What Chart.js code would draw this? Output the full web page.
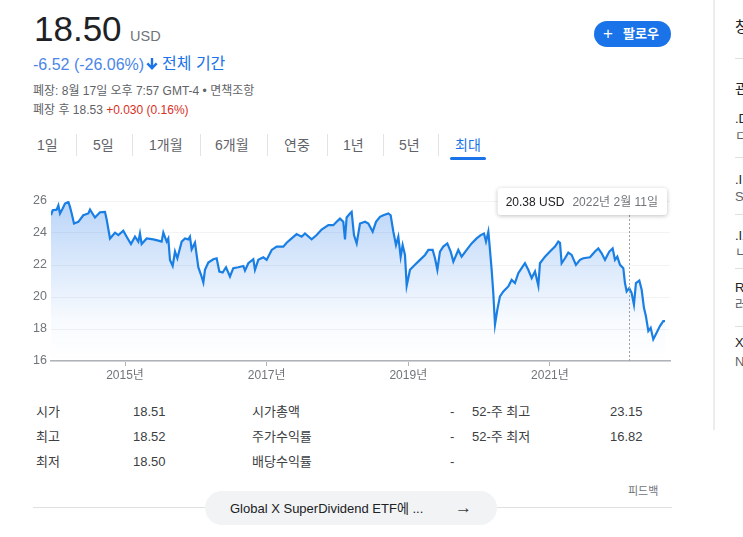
<!DOCTYPE html>
<html lang="ko">
<head>
<meta charset="utf-8">
<script src="https://cdn.jsdelivr.net/npm/chart.js@4.4.1/dist/chart.umd.min.js"></script>
<style>
  body { margin: 0; width: 743px; height: 537px; overflow: hidden; background: #fff;
         font-family: "Liberation Sans", Arial, "Noto Sans CJK KR", sans-serif; color: #202124; }
  .t { position: absolute; line-height: 1; white-space: nowrap; }
  .grey { color: #5f6368; }
  .tab { position: absolute; top: 138px; font-size: 14px; color: #5f6368; line-height: 1; }
  .sep { position: absolute; top: 134px; width: 1px; height: 22px; background: #e3e3e3; }
  .lbl { position: absolute; font-size: 13px; color: #3c4043; line-height: 1; }
  .side { position: absolute; left: 735px; width: 8px; overflow: hidden; white-space: nowrap; line-height: 1; font-size: 13px; }
  .sideSep { position: absolute; left: 735px; width: 8px; height: 1px; background: #e0e0e0; }
</style>
</head>
<body>
<div class="t" style="left:34px;top:11px;font-size:35px;">18.50</div>
<div class="t grey" style="left:130px;top:29px;font-size:14.5px;color:#70757a;">USD</div>
<div class="t" style="left:33px;top:57px;font-size:16px;color:#4a86e8;">-6.52 (-26.06%)</div>
<svg style="position:absolute;left:146px;top:57px;" width="12" height="14" viewBox="0 0 12 14">
  <path d="M6 13 L0.5 7.2 L2.2 5.6 L4.8 8.3 L4.8 1 L7.2 1 L7.2 8.3 L9.8 5.6 L11.5 7.2 Z" fill="#1a73e8"/>
</svg>
<div class="t" style="left:162px;top:56px;font-size:16px;color:#1a73e8;">전체 기간</div>
<div class="t grey" style="left:33px;top:85px;font-size:12px;">폐장: 8월 17일 오후 7:57 GMT-4 • 면책조항</div>
<div class="t grey" style="left:33px;top:104px;font-size:12px;">폐장 후 18.53 <span style="color:#d93025;">+0.030 (0.16%)</span></div>

<div style="position:absolute;left:594px;top:21px;width:77px;height:26px;border-radius:13px;background:#1a73e8;"></div>
<div class="t" style="left:603px;top:25px;font-size:17px;color:#fff;">+</div>
<div class="t" style="left:623px;top:27px;font-size:13px;color:#fff;font-weight:bold;">팔로우</div>

<div class="tab" style="left:37px;">1일</div>
<div class="sep" style="left:76px;"></div>
<div class="tab" style="left:93px;">5일</div>
<div class="sep" style="left:132px;"></div>
<div class="tab" style="left:149px;">1개월</div>
<div class="sep" style="left:200px;"></div>
<div class="tab" style="left:215px;">6개월</div>
<div class="sep" style="left:267px;"></div>
<div class="tab" style="left:284px;">연중</div>
<div class="sep" style="left:327px;"></div>
<div class="tab" style="left:343px;">1년</div>
<div class="sep" style="left:383px;"></div>
<div class="tab" style="left:399px;">5년</div>
<div class="sep" style="left:438px;"></div>
<div class="tab" style="left:455px;color:#1a73e8;">최대</div>
<div style="position:absolute;left:450px;top:157px;width:36px;height:3px;border-radius:2px;background:#1a73e8;"></div>

<canvas id="priceChart" style="position:absolute;left:0;top:180px;"></canvas>

<div class="lbl" style="left:36px;top:405px;">시가</div>
<div class="lbl" style="left:133px;top:405px;">18.51</div>
<div class="lbl" style="left:252px;top:405px;">시가총액</div>
<div class="lbl" style="left:450px;top:405px;">-</div>
<div class="lbl" style="left:472px;top:405px;">52-주 최고</div>
<div class="lbl" style="left:610px;top:405px;">23.15</div>
<div class="lbl" style="left:36px;top:430px;">최고</div>
<div class="lbl" style="left:133px;top:430px;">18.52</div>
<div class="lbl" style="left:252px;top:430px;">주가수익률</div>
<div class="lbl" style="left:450px;top:430px;">-</div>
<div class="lbl" style="left:472px;top:430px;">52-주 최저</div>
<div class="lbl" style="left:610px;top:430px;">16.82</div>
<div class="lbl" style="left:36px;top:455px;">최저</div>
<div class="lbl" style="left:133px;top:455px;">18.50</div>
<div class="lbl" style="left:252px;top:455px;">배당수익률</div>
<div class="lbl" style="left:450px;top:455px;">-</div>

<div class="t" style="left:628px;top:486px;font-size:11px;color:#70757a;">피드백</div>
<div style="position:absolute;left:33px;top:507px;width:639px;height:1px;background:#e0e0e0;"></div>
<div style="position:absolute;left:205px;top:491px;width:292px;height:34px;border-radius:17px;background:#f1f3f4;"></div>
<div class="t" style="left:230px;top:502px;font-size:13px;color:#202124;">Global X SuperDividend ETF에 ...</div>
<div class="t" style="left:455px;top:499px;font-size:17px;color:#3c4043;">&#8594;</div>

<div style="position:absolute;left:713px;top:0;width:2px;height:430px;background:#ececec;"></div>
<div class="side" style="top:19px;font-size:15px;">창 관심 종목</div>
<div class="sideSep" style="top:58px;"></div>
<div class="side" style="top:81px;font-size:15px;">관련 항목</div>
<div class="side" style="top:112px;">.DJI</div>
<div class="side" style="top:129px;color:#5f6368;">ㄷ</div>
<div class="sideSep" style="top:157px;"></div>
<div class="side" style="top:173px;">.INX</div>
<div class="side" style="top:190px;color:#5f6368;">S&amp;P 500</div>
<div class="sideSep" style="top:214px;"></div>
<div class="side" style="top:229px;">.IXIC</div>
<div class="side" style="top:245px;color:#5f6368;">ㄴ</div>
<div class="sideSep" style="top:268px;"></div>
<div class="side" style="top:281px;">RUT</div>
<div class="side" style="top:298px;color:#5f6368;">러셀 2000</div>
<div class="sideSep" style="top:326px;"></div>
<div class="side" style="top:336px;">XOM</div>
<div class="side" style="top:355px;color:#5f6368;">NYSE</div>

<script>
// decimal year of each sample
const years = [
  2013.955, 2013.979, 2014.035, 2014.059, 2014.082, 2014.12, 2014.153, 2014.2, 2014.223, 2014.247,
  2014.28, 2014.341, 2014.411, 2014.482, 2014.506, 2014.576, 2014.647, 2014.717, 2014.741, 2014.788,
  2014.859, 2014.906, 2014.976, 2015.023, 2015.084, 2015.141, 2015.188, 2015.211, 2015.235, 2015.306,
  2015.4, 2015.47, 2015.517, 2015.541, 2015.588, 2015.611, 2015.635, 2015.673, 2015.706, 2015.739,
  2015.8, 2015.847, 2015.894, 2015.917, 2015.941, 2015.988, 2016.035, 2016.073, 2016.106, 2016.129,
  2016.176, 2016.247, 2016.294, 2016.332, 2016.379, 2016.426, 2016.482, 2016.529, 2016.6, 2016.671,
  2016.694, 2016.741, 2016.812, 2016.835, 2016.882, 2016.953, 2017.0, 2017.071, 2017.141, 2017.235,
  2017.282, 2017.353, 2017.423, 2017.494, 2017.541, 2017.635, 2017.706, 2017.776, 2017.871, 2017.941,
  2017.988, 2018.035, 2018.082, 2018.106, 2018.129, 2018.176, 2018.2, 2018.233, 2018.271,
  2018.318, 2018.389, 2018.436, 2018.497, 2018.544, 2018.6, 2018.647, 2018.718, 2018.751, 2018.789,
  2018.826, 2018.859, 2018.892, 2018.92, 2018.953, 2018.977, 2019.024, 2019.094, 2019.165, 2019.236,
  2019.283, 2019.344, 2019.377, 2019.41, 2019.447, 2019.494, 2019.551, 2019.598, 2019.636, 2019.706,
  2019.753, 2019.824, 2019.894, 2019.965, 2020.022, 2020.069, 2020.097, 2020.13, 2020.153, 2020.177,
  2020.2, 2020.224, 2020.257, 2020.294, 2020.342, 2020.412, 2020.459, 2020.506, 2020.553, 2020.6,
  2020.647, 2020.694, 2020.742, 2020.789, 2020.836, 2020.859, 2020.93, 2021.0, 2021.071, 2021.118,
  2021.142, 2021.165, 2021.212, 2021.259, 2021.306, 2021.367, 2021.424, 2021.471, 2021.565, 2021.636,
  2021.683, 2021.73, 2021.777, 2021.838, 2021.885, 2021.918, 2021.951, 2021.989, 2022.036, 2022.059,
  2022.083, 2022.12, 2022.153, 2022.186, 2022.214, 2022.262, 2022.295, 2022.327, 2022.355, 2022.389,
  2022.422, 2022.459, 2022.506, 2022.553, 2022.6, 2022.624
];
// closing price (USD)
const prices = [
  25.11, 25.42, 25.46, 25.73, 25.22, 25.53, 25.84, 25.94, 25.63, 25.22,
  24.59, 24.70, 25.11, 25.22, 25.46, 24.97, 25.30, 25.32, 24.84, 23.66,
  24.02, 23.87, 24.14, 23.77, 23.31, 23.77, 23.46, 23.97, 23.31, 23.66,
  23.60, 23.52, 23.46, 24.02, 23.46, 23.66, 22.32, 21.94, 22.84, 22.42,
  23.46, 23.66, 23.60, 23.77, 22.98, 23.39, 21.86, 21.39, 20.91, 21.70,
  22.15, 22.36, 22.42, 21.59, 21.53, 21.86, 21.28, 21.80, 21.86, 21.94,
  21.65, 22.11, 22.36, 21.70, 22.32, 22.48, 22.32, 22.94, 23.15, 23.15,
  23.39, 23.66, 23.93, 23.77, 23.97, 23.60, 23.87, 24.22, 24.49, 24.49,
  24.70, 24.90, 24.70, 23.60, 24.97, 25.22, 25.32, 23.87, 23.35,
  24.59, 24.70, 24.59, 24.08, 24.70, 25.01, 25.11, 25.22, 25.11, 24.08,
  23.25, 23.77, 22.52, 23.25, 22.63, 20.70, 21.70, 22.01, 22.32, 22.63,
  22.94, 22.94, 22.42, 21.70, 22.84, 23.15, 23.35, 22.84, 22.21, 22.94,
  22.52, 22.94, 23.35, 23.66, 23.87, 23.97, 23.46, 24.08, 22.94, 21.70,
  20.25, 18.28, 19.21, 20.04, 20.35, 20.66, 21.07, 20.87, 21.49, 21.80,
  22.11, 21.70, 21.18, 21.59, 20.70, 22.11, 22.52, 22.84, 23.15, 23.46,
  23.39, 22.11, 22.42, 22.77, 22.63, 22.01, 22.32, 22.42, 22.48, 22.84,
  23.04, 22.73, 22.32, 22.84, 23.04, 22.32, 22.52, 22.01, 21.80, 20.87,
  20.35, 20.56, 20.25, 19.52, 20.87, 21.03, 20.45, 19.32, 18.80, 17.87,
  18.07, 17.35, 17.76, 18.18, 18.49, 18.49
];
const tickYears = [2015, 2017, 2019, 2021];
const yTicks = [16, 18, 20, 22, 24, 26];

// hovered point shown in the tooltip
const hoverYear = 2022.112;
const hoverPrice = '20.38 USD';
const hoverDate = '2022년 2월 11일';

const hoverMark = {
  id: 'hoverMark',
  afterDatasetsDraw(chart) {
    const { ctx, chartArea, scales } = chart;
    const x = Math.round(scales.x.getPixelForValue(hoverYear)) + 0.5;
    const boxTop = 8, boxH = 27;
    ctx.save();
    ctx.strokeStyle = '#9aa0a6';
    ctx.lineWidth = 1;
    ctx.setLineDash([2, 2]);
    ctx.beginPath();
    ctx.moveTo(x, boxTop + boxH);
    ctx.lineTo(x, chartArea.bottom);
    ctx.stroke();
    ctx.setLineDash([]);

    const priceFont = '12px "Liberation Sans", Arial, sans-serif';
    const dateFont = '12px "Liberation Sans", Arial, "Noto Sans CJK KR", sans-serif';
    ctx.font = priceFont;
    const w1 = ctx.measureText(hoverPrice).width;
    ctx.font = dateFont;
    const w2 = ctx.measureText(hoverDate).width;
    const boxW = 8 + w1 + 8 + w2 + 9;
    const boxRight = chartArea.right - 3;
    const boxLeft = boxRight - boxW;
    ctx.shadowColor = 'rgba(0,0,0,0.25)';
    ctx.shadowBlur = 4;
    ctx.shadowOffsetY = 1;
    ctx.fillStyle = '#fff';
    ctx.beginPath();
    ctx.roundRect(boxLeft, boxTop, boxW, boxH, 3);
    ctx.fill();
    ctx.shadowColor = 'transparent';
    ctx.textBaseline = 'middle';
    ctx.fillStyle = '#202124';
    ctx.font = priceFont;
    ctx.fillText(hoverPrice, boxLeft + 8, boxTop + boxH / 2 + 1);
    ctx.fillStyle = '#70757a';
    ctx.font = dateFont;
    ctx.fillText(hoverDate, boxLeft + 8 + w1 + 8, boxTop + boxH / 2 + 1);
    ctx.restore();
  }
};

const canvas = document.getElementById('priceChart');
canvas.width = 700;
canvas.height = 210;
const ctx = canvas.getContext('2d');

const chart = new Chart(ctx, {
  type: 'line',
  data: {
    labels: years,
    datasets: [{
      data: years.map((y, i) => ({ x: y, y: prices[i] })),
      borderColor: '#1a7fe4',
      borderWidth: 2.2,
      pointRadius: 0,
      tension: 0,
      fill: 'start',
      backgroundColor: (c) => {
        const area = c.chart.chartArea;
        if (!area) return 'rgba(26,115,232,0.2)';
        const g = c.chart.ctx.createLinearGradient(0, area.top, 0, area.bottom);
        g.addColorStop(0, 'rgba(26,115,232,0.30)');
        g.addColorStop(0.75, 'rgba(26,115,232,0.03)');
        g.addColorStop(1, 'rgba(26,115,232,0.0)');
        return g;
      }
    }]
  },
  options: {
    responsive: false,
    animation: false,
    events: [],
    layout: { padding: { top: 21, right: 30, left: 0, bottom: 0 } },
    plugins: { legend: { display: false }, tooltip: { enabled: false } },
    scales: {
      x: {
        type: 'linear',
        min: 2013.955,
        max: 2022.695,
        afterBuildTicks: (s) => { s.ticks = tickYears.map(v => ({ value: v })); },
        afterFit: (s) => { s.height = 29; },
        border: { display: true, color: '#b0b3b8', width: 1.5 },
        grid: { drawOnChartArea: false, drawTicks: true, tickLength: 5, color: '#b0b3b8' },
        ticks: {
          color: '#70757a',
          font: { size: 12, family: '"Liberation Sans", Arial, "Noto Sans CJK KR", sans-serif' },
          padding: 2,
          maxRotation: 0,
          callback: (v) => v + '년'
        }
      },
      y: {
        min: 16,
        max: 26,
        afterBuildTicks: (s) => { s.ticks = yTicks.map(v => ({ value: v })); },
        afterFit: (s) => { s.width = 51; },
        border: { display: false },
        grid: { color: '#f1f3f4', drawTicks: false },
        ticks: {
          color: '#70757a',
          font: { size: 12.5, family: '"Liberation Sans", Arial, sans-serif' },
          padding: 4
        }
      }
    }
  },
  plugins: [hoverMark]
});
</script>
</body>
</html>
